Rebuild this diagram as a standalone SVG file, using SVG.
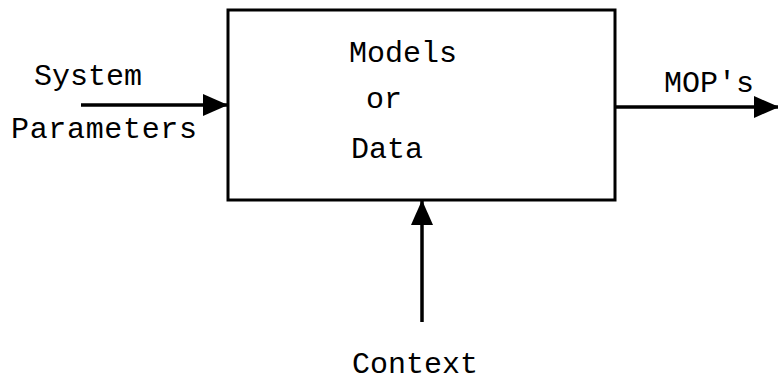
<svg xmlns="http://www.w3.org/2000/svg" width="778" height="381" viewBox="0 0 778 381">
  <style>
    .lbl { font-family: "Liberation Mono", "Courier New", monospace; font-size: 30px; fill: #000; }
    .box { fill: #fff; stroke: #000; stroke-width: 3; }
    .wire { fill: none; stroke: #000; stroke-width: 3.5; }
  </style>
  <defs>
    <marker id="head" markerUnits="userSpaceOnUse" markerWidth="26" markerHeight="24" refX="25" refY="11" orient="auto" viewBox="0 0 26 24">
      <path d="M0,0 L25,11 L0,22 Z" fill="#000"/>
    </marker>
  </defs>
  <rect width="778" height="381" fill="#fff"/>

  <g id="process">
    <rect class="box" x="228" y="10" width="387" height="190"/>
    <text class="lbl" x="349" y="62">Models</text>
    <text class="lbl" x="366" y="108">or</text>
    <text class="lbl" x="351" y="158">Data</text>
  </g>

  <g id="input">
    <text class="lbl" x="34" y="85">System</text>
    <text class="lbl" x="11" y="138" textLength="186">Parameters</text>
  </g>

  <g id="output">
    <text class="lbl" x="664" y="92">MOP's</text>
  </g>

  <g id="context">
    <text class="lbl" x="352" y="373">Context</text>
  </g>

  <g id="connectors">
    <line class="wire" x1="81" y1="105" x2="228" y2="105" marker-end="url(#head)"/>
    <line class="wire" x1="615" y1="107" x2="779" y2="107" marker-end="url(#head)"/>
    <line class="wire" x1="422" y1="322" x2="422" y2="200" marker-end="url(#head)"/>
  </g>
</svg>
